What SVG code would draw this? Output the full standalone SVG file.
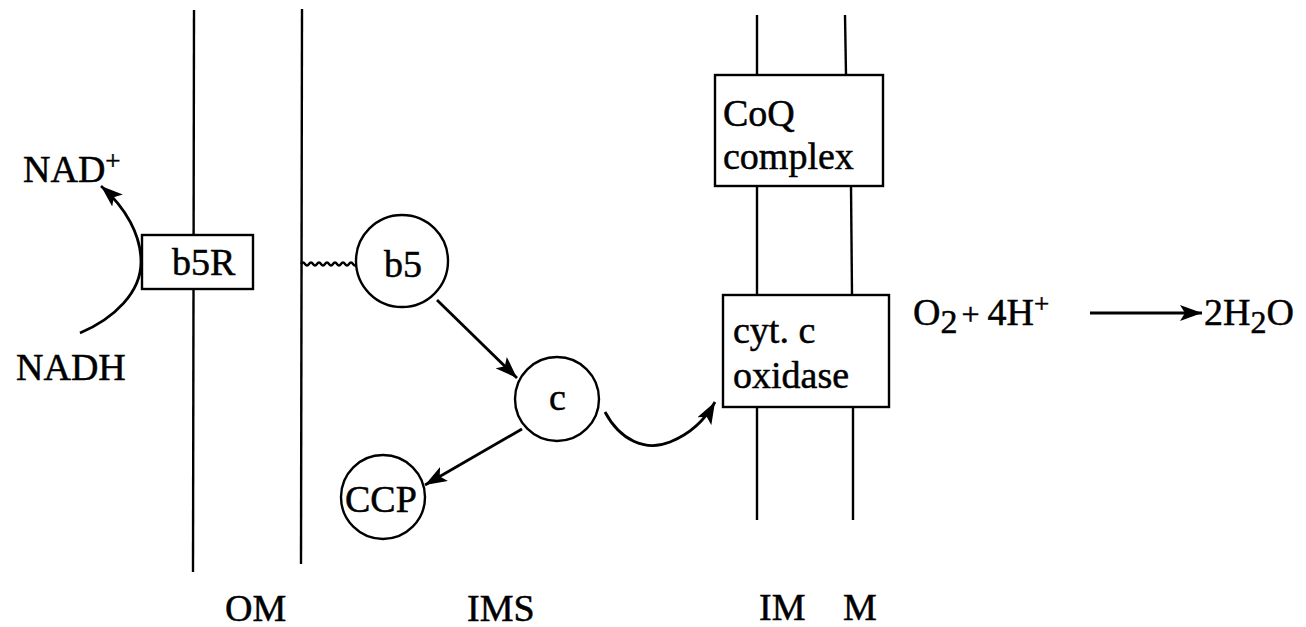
<svg xmlns="http://www.w3.org/2000/svg" width="1306" height="627" viewBox="0 0 1306 627">
<defs>
<style>
.t{font-family:"Liberation Serif","Times New Roman",serif;font-size:38px;fill:#000;stroke:#000;stroke-width:0.5}
.s{font-size:27px}
.ln{stroke:#000;stroke-width:2.4;fill:none}
.box{fill:#fff;stroke:#000;stroke-width:2.4}
.arr{stroke:#000;stroke-width:2.8;fill:none;marker-end:url(#ah)}
</style>
<marker id="ah" markerUnits="userSpaceOnUse" markerWidth="24" markerHeight="16" refX="22" refY="8" orient="auto">
<path d="M0,0 L22,8 L0,16 L5,8 z" fill="#000"/>
</marker>
</defs>
<rect width="1306" height="627" fill="#fff"/>
<g id="membranes">
<line class="ln" x1="194" y1="10" x2="193" y2="572"/>
<line class="ln" x1="302" y1="9" x2="301" y2="564"/>
<line class="ln" x1="757" y1="15" x2="757" y2="520"/>
<line class="ln" x1="845" y1="15" x2="846" y2="75"/>
<line class="ln" x1="851" y1="186" x2="852" y2="295"/>
<line class="ln" x1="853" y1="407" x2="853" y2="520"/>
</g>
<g id="connectors">
<path class="arr" d="M80,333 C115,318 141,292 141,262 C141,235 126,208 101,186"/>
<path class="ln" stroke-width="3.2" d="M301,264 q2,-3 4,0 t4,0 t4,0 t4,0 t4,0 t4,0 t4,0 t4,0 t4,0 t4,0 t4,0 t4,0 t4,0 t4,0"/>
<path class="arr" d="M437,300 L517,378"/>
<path class="arr" d="M522,429 L425,485"/>
<path class="arr" d="M605,412 C620,440 645,452 670,442 C690,434 705,420 715,402"/>
<path class="arr" d="M1090,313 L1202,313"/>
</g>
<g id="b5R">
<rect class="box" x="142" y="235" width="111" height="54"/>
<text class="t" x="172" y="275">b5R</text>
</g>
<g id="nad">
<text class="t" x="23" y="182">NAD<tspan class="s" dy="-12">+</tspan></text>
<text class="t" x="16" y="380">NADH</text>
</g>
<g id="b5">
<circle class="box" cx="402" cy="261" r="46"/>
<text class="t" x="384" y="277">b5</text>
</g>
<g id="c">
<circle class="box" cx="557" cy="399" r="42"/>
<text class="t" x="549" y="410">c</text>
</g>
<g id="CCP">
<circle class="box" cx="383" cy="497" r="42"/>
<text class="t" x="345" y="512">CCP</text>
</g>
<g id="CoQ">
<rect class="box" x="715" y="75" width="168" height="111"/>
<text class="t" x="723" y="126" font-size="37">CoQ</text>
<text class="t" x="723" y="169" font-size="37">complex</text>
</g>
<g id="cytox">
<rect class="box" x="723" y="295" width="166" height="112"/>
<text class="t" x="733" y="343">cyt. c</text>
<text class="t" x="733" y="388">oxidase</text>
</g>
<g id="reaction">
<text class="t" x="913" y="325">O<tspan dy="8" font-size="34">2</tspan><tspan dy="-8" dx="4" font-size="32">+</tspan><tspan dx="8">4H</tspan><tspan class="s" dy="-12">+</tspan></text>
<text class="t" x="1204" y="325">2H<tspan dy="8" font-size="32">2</tspan><tspan dy="-8">O</tspan></text>
</g>
<g id="labels">
<text class="t" x="225" y="621">OM</text>
<text class="t" x="467" y="621">IMS</text>
<text class="t" x="759" y="620">IM</text>
<text class="t" x="843" y="620">M</text>
</g>
</svg>
